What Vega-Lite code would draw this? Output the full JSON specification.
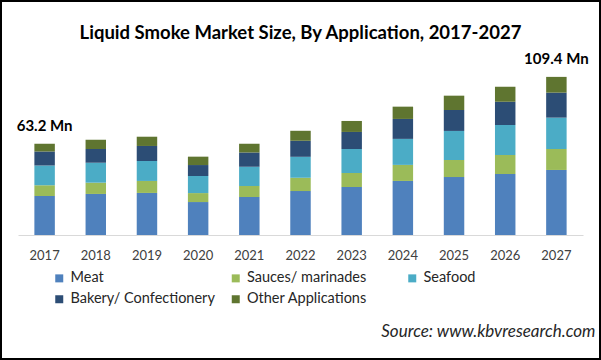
{
  "$schema": "https://vega.github.io/schema/vega-lite/v6.json",
  "width": 601,
  "height": 360,
  "autosize": {"type": "none"},
  "padding": 0,
  "background": "white",
  "config": {
    "view": {"stroke": "#000000", "strokeWidth": 4},
    "font": "Lato"
  },
  "title": {
    "text": "Liquid Smoke Market Size, By Application, 2017-2027",
    "font": "Lato",
    "fontSize": 18.5,
    "fontWeight": "bold",
    "color": "#000000",
    "anchor": "middle",
    "baseline": "alphabetic",
    "offset": -57
  },
  "datasets": {
    "bars": [
      {"year": "2017", "app": "Meat", "value": 27.0},
      {"year": "2017", "app": "Sauces/ marinades", "value": 7.4},
      {"year": "2017", "app": "Seafood", "value": 13.6},
      {"year": "2017", "app": "Bakery/ Confectionery", "value": 9.7},
      {"year": "2017", "app": "Other Applications", "value": 5.5},
      {"year": "2018", "app": "Meat", "value": 28.4},
      {"year": "2018", "app": "Sauces/ marinades", "value": 7.8},
      {"year": "2018", "app": "Seafood", "value": 13.8},
      {"year": "2018", "app": "Bakery/ Confectionery", "value": 9.5},
      {"year": "2018", "app": "Other Applications", "value": 6.4},
      {"year": "2019", "app": "Meat", "value": 29.1},
      {"year": "2019", "app": "Sauces/ marinades", "value": 8.3},
      {"year": "2019", "app": "Seafood", "value": 13.8},
      {"year": "2019", "app": "Bakery/ Confectionery", "value": 10.4},
      {"year": "2019", "app": "Other Applications", "value": 6.4},
      {"year": "2020", "app": "Meat", "value": 22.8},
      {"year": "2020", "app": "Sauces/ marinades", "value": 6.2},
      {"year": "2020", "app": "Seafood", "value": 11.8},
      {"year": "2020", "app": "Bakery/ Confectionery", "value": 7.6},
      {"year": "2020", "app": "Other Applications", "value": 5.8},
      {"year": "2021", "app": "Meat", "value": 26.3},
      {"year": "2021", "app": "Sauces/ marinades", "value": 7.6},
      {"year": "2021", "app": "Seafood", "value": 13.4},
      {"year": "2021", "app": "Bakery/ Confectionery", "value": 9.7},
      {"year": "2021", "app": "Other Applications", "value": 6.2},
      {"year": "2022", "app": "Meat", "value": 30.4},
      {"year": "2022", "app": "Sauces/ marinades", "value": 9.2},
      {"year": "2022", "app": "Seafood", "value": 14.5},
      {"year": "2022", "app": "Bakery/ Confectionery", "value": 11.1},
      {"year": "2022", "app": "Other Applications", "value": 6.9},
      {"year": "2023", "app": "Meat", "value": 33.2},
      {"year": "2023", "app": "Sauces/ marinades", "value": 9.7},
      {"year": "2023", "app": "Seafood", "value": 16.6},
      {"year": "2023", "app": "Bakery/ Confectionery", "value": 11.8},
      {"year": "2023", "app": "Other Applications", "value": 7.6},
      {"year": "2024", "app": "Meat", "value": 37.4},
      {"year": "2024", "app": "Sauces/ marinades", "value": 11.1},
      {"year": "2024", "app": "Seafood", "value": 18.0},
      {"year": "2024", "app": "Bakery/ Confectionery", "value": 13.8},
      {"year": "2024", "app": "Other Applications", "value": 8.5},
      {"year": "2025", "app": "Meat", "value": 40.1},
      {"year": "2025", "app": "Sauces/ marinades", "value": 11.8},
      {"year": "2025", "app": "Seafood", "value": 20.1},
      {"year": "2025", "app": "Bakery/ Confectionery", "value": 14.5},
      {"year": "2025", "app": "Other Applications", "value": 9.9},
      {"year": "2026", "app": "Meat", "value": 42.2},
      {"year": "2026", "app": "Sauces/ marinades", "value": 13.1},
      {"year": "2026", "app": "Seafood", "value": 20.8},
      {"year": "2026", "app": "Bakery/ Confectionery", "value": 16.1},
      {"year": "2026", "app": "Other Applications", "value": 10.4},
      {"year": "2027", "app": "Meat", "value": 45.0},
      {"year": "2027", "app": "Sauces/ marinades", "value": 14.5},
      {"year": "2027", "app": "Seafood", "value": 21.7},
      {"year": "2027", "app": "Bakery/ Confectionery", "value": 17.3},
      {"year": "2027", "app": "Other Applications", "value": 10.9}
    ],
    "labels": [
      {"year": "2017", "total": 63.2, "label": "63.2 Mn"},
      {"year": "2027", "total": 109.4, "label": "109.4 Mn"}
    ]
  },
  "encoding": {
    "x": {
      "field": "year",
      "type": "ordinal",
      "scale": {"range": [18, 583], "paddingInner": 0.6, "paddingOuter": 0.32},
      "axis": {
        "offset": -125,
        "domainColor": "#D9D9D9",
        "domainWidth": 1,
        "ticks": false,
        "labelAngle": 0,
        "labelFont": "Lato",
        "labelFontSize": 13,
        "labelColor": "#404040",
        "labelBaseline": "alphabetic",
        "labelPadding": 24,
        "title": "Source: www.kbvresearch.com",
        "titleFont": "Lato",
        "titleFontSize": 17,
        "titleFontStyle": "italic",
        "titleFontWeight": "normal",
        "titleColor": "#262626",
        "titleAlign": "right",
        "titleAnchor": null,
        "titleBaseline": "alphabetic",
        "titleX": 595,
        "titleY": 101
      }
    }
  },
  "layer": [
    {
      "data": {"name": "bars"},
      "transform": [
        {"calculate": "indexof(['Meat', 'Sauces/ marinades', 'Seafood', 'Bakery/ Confectionery', 'Other Applications'], datum.app)", "as": "stackOrder"}
      ],
      "mark": {"type": "bar"},
      "encoding": {
        "y": {
          "field": "value",
          "type": "quantitative",
          "stack": "zero",
          "scale": {"domain": [-86.5, 162.6], "nice": false, "zero": false},
          "axis": null
        },
        "color": {
          "field": "app",
          "type": "nominal",
          "sort": ["Meat", "Sauces/ marinades", "Seafood", "Bakery/ Confectionery", "Other Applications"],
          "scale": {
            "domain": ["Meat", "Sauces/ marinades", "Seafood", "Bakery/ Confectionery", "Other Applications"],
            "range": ["#4F81BD", "#9BBB59", "#4BACC6", "#2C4D75", "#5F7530"]
          },
          "legend": {
            "orient": "none",
            "legendX": 52,
            "legendY": 271,
            "title": null,
            "columns": 3,
            "direction": "horizontal",
            "gridAlign": "all",
            "columnPadding": 13.5,
            "rowPadding": 6,
            "symbolType": "square",
            "symbolSize": 64,
            "symbolStrokeWidth": 0,
            "symbolOffset": 0,
            "labelOffset": 4,
            "labelFont": "Lato",
            "labelFontSize": 14.5,
            "labelColor": "#262626",
            "labelLimit": 300,
            "padding": 0
          }
        },
        "order": {"field": "stackOrder", "type": "quantitative", "sort": "ascending"}
      }
    },
    {
      "data": {"name": "labels"},
      "mark": {"type": "text", "font": "Lato", "fontSize": 15, "fontWeight": "bold", "color": "#000000", "baseline": "alphabetic", "dy": -13},
      "encoding": {
        "y": {"field": "total", "type": "quantitative"},
        "text": {"field": "label"}
      }
    }
  ]
}
